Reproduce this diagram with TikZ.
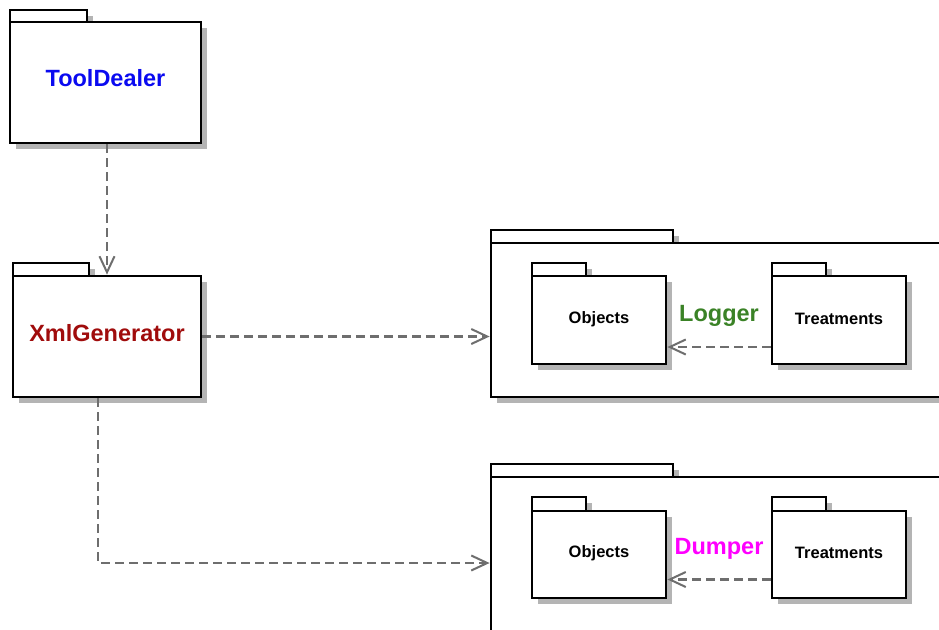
\documentclass[tikz,border=0pt]{standalone}
\usepackage{fontspec}
\setmainfont{Liberation Sans}
\usetikzlibrary{arrows.meta,fit}
\definecolor{shadowc}{RGB}{180,180,180}
\definecolor{dashc}{RGB}{110,110,110}
\definecolor{tdblue}{RGB}{10,10,240}
\definecolor{xgred}{RGB}{160,12,12}
\definecolor{lggreen}{RGB}{58,130,38}
\definecolor{dpmag}{RGB}{255,0,255}
\newcommand\mkfolder[7]{%
  \fill[shadowc] (#2+6,#3+6) rectangle (#4+6,#5+6);
  \fill[shadowc] (#2+6,#5+6) rectangle (#6+6,#7+6);
  \draw[pkgline,fill=white] (#2,#3) rectangle (#4,#5);
  \node[pkgbody, fit={(#2,#5) (#6,#7)}] (#1) {};
}
\begin{document}
\begin{tikzpicture}[x=1pt,y=-1pt,
  pkgline/.style={draw=black,line width=2.8pt},
  pkgbody/.style={draw=black,line width=2.8pt,fill=white,inner sep=0pt,rectangle},
  bigtxt/.style={font=\bfseries\fontsize{23.5}{28}\selectfont,inner sep=0pt},
  smalltxt/.style={font=\bfseries\fontsize{16.5}{20}\selectfont,inner sep=0pt,text=black},
  dep/.style={draw=dashc,line width=2.3pt,dash pattern=on 9pt off 5pt,
    -{Straight Barb[length=16pt,width=15pt,line width=2pt]}}]
\useasboundingbox (0,0) rectangle (939,629);
\clip (0,0) rectangle (939,629);
% packages
\mkfolder{td}{10}{10}{87}{22}{201}{143}
\mkfolder{xg}{13}{263}{89}{276}{201}{397}
\mkfolder{lg}{491}{230}{673}{243}{965}{397}
\mkfolder{ob1}{532}{263}{586}{276}{666}{364}
\mkfolder{tr1}{772}{263}{826}{276}{906}{364}
\mkfolder{dp}{491}{464}{673}{477}{965}{660}
\mkfolder{ob2}{532}{497}{586}{511}{666}{598}
\mkfolder{tr2}{772}{497}{826}{511}{906}{598}
% labels
\node[bigtxt,text=tdblue] (tdl) at (105.5,78) {ToolDealer};
\node[bigtxt,text=xgred] (xgl) at (107,333) {XmlGenerator};
\node[bigtxt,text=lggreen] (lgl) at (719,316) {Logger};
\node[bigtxt,text=dpmag] (dpl) at (719,549) {Dumper};
\node[smalltxt] (ob1l) at (599,319) {Objects};
\node[smalltxt] (tr1l) at (839,319) {Treatments};
\node[smalltxt] (ob2l) at (599,553) {Objects};
\node[smalltxt] (tr2l) at (839,553) {Treatments};
% dependencies
\draw[dep] ([xshift=1.5pt]td.south) -- ([xshift=1.5pt]td.south |- xg.north);
\draw[dep] (xg.east) -- (xg.east -| lg.west);
\draw[dep] ([xshift=-9pt]xg.south) |- ([yshift=5.5pt]dp.west);
\draw[dep] ([yshift=-27pt]tr1.west) -- ([yshift=-27pt]tr1.west -| ob1.east);
\draw[dep] ([yshift=-25pt]tr2.west) -- ([yshift=-25pt]tr2.west -| ob2.east);
\end{tikzpicture}
\end{document}
